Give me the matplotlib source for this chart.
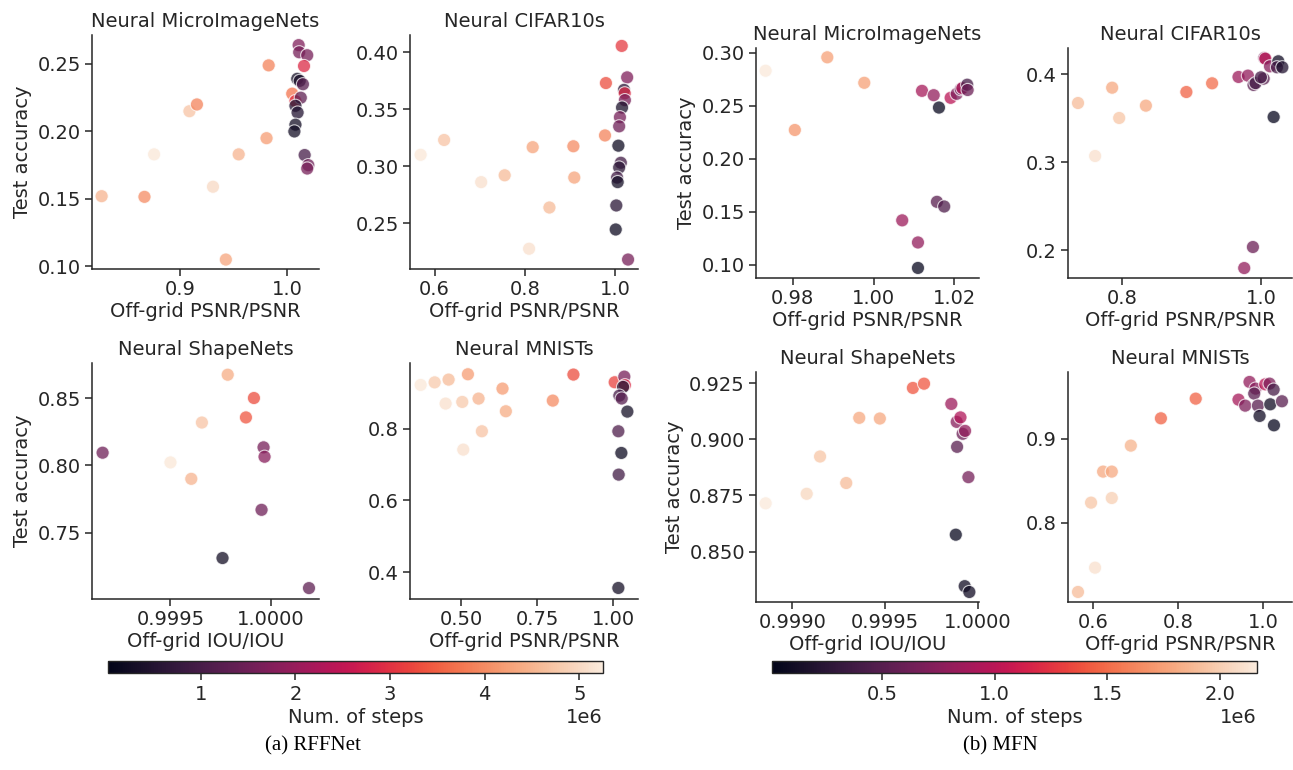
import matplotlib
matplotlib.use("Agg")
import matplotlib.pyplot as plt
import matplotlib.ticker as mticker
import seaborn as sns

sns.set_theme(style="ticks")
plt.rcParams["font.family"] = ["DejaVu Sans"]

# ---- RFFNet runs (num. of steps given in millions) ----
rff_img_x = [0.827, 0.867, 0.876, 0.909, 0.916, 0.931, 0.943, 0.955, 0.981, 0.983, 1.005, 1.008, 1.011, 1.0115,
             1.019, 1.016, 1.0097, 1.012, 1.015, 1.013, 1.008, 1.010, 1.008, 1.007, 1.0166, 1.020, 1.019]
rff_img_y = [0.152, 0.1515, 0.183, 0.215, 0.220, 0.159, 0.105, 0.183, 0.195, 0.249, 0.228, 0.2225, 0.264, 0.2587,
             0.2565, 0.2485, 0.239, 0.2375, 0.235, 0.225, 0.219, 0.214, 0.205, 0.200, 0.1825, 0.175, 0.1725]
rff_img_steps = [4.5, 4.0, 5.2, 4.7, 3.9, 5.0, 4.3, 4.5, 4.2, 3.9, 3.7, 3.0, 1.7, 1.6,
                 1.6, 2.9, 0.3, 0.4, 1.2, 1.3, 0.5, 0.5, 0.3, 0.3, 1.0, 1.5, 1.6]

rff_cifar_x = [0.569, 0.621, 0.703, 0.755, 0.809, 0.817, 0.854, 0.907, 0.909, 0.977, 0.979, 1.014, 1.026, 1.019,
               1.0206, 1.021, 1.0147, 1.010, 1.0083, 1.0066, 1.012, 1.0083, 1.0037, 1.005, 1.002, 1.0007, 1.028]
rff_cifar_y = [0.310, 0.323, 0.286, 0.292, 0.2275, 0.3167, 0.2637, 0.3175, 0.290, 0.327, 0.373, 0.4056, 0.378, 0.367,
               0.364, 0.358, 0.3515, 0.343, 0.335, 0.318, 0.303, 0.2988, 0.290, 0.286, 0.2655, 0.2444, 0.218]
rff_cifar_steps = [5.2, 4.7, 5.1, 4.6, 5.1, 4.3, 4.6, 4.0, 4.3, 3.9, 3.3, 3.1, 1.7, 0.6,
                   2.9, 1.6, 0.4, 1.6, 1.5, 0.2, 0.9, 0.6, 0.9, 0.3, 0.6, 0.2, 1.6]

rff_shape_x = [0.999161, 0.99950, 0.999604, 0.999657, 0.999786, 0.999760, 0.999877, 0.999917, 0.999965,
               0.999970, 0.999955, 1.000192]
rff_shape_y = [0.8094, 0.8022, 0.790, 0.8318, 0.8673, 0.7312, 0.8356, 0.850, 0.8134, 0.8064, 0.767, 0.7089]
rff_shape_steps = [1.5, 5.2, 4.5, 4.7, 4.4, 0.3, 3.4, 3.3, 1.6, 1.8, 1.5, 1.3]

rff_mnist_x = [0.3665, 0.4125, 0.4584, 0.4486, 0.5033, 0.5219, 0.5066, 0.5569, 0.5678, 0.6356, 0.6466, 0.8009,
               0.8687, 1.0044, 1.036, 1.038, 1.032, 1.0197, 1.0274, 1.046, 1.0164, 1.0263, 1.0175, 1.0164]
rff_mnist_y = [0.9218, 0.929, 0.9367, 0.8698, 0.8744, 0.9516, 0.7414, 0.8837, 0.7926, 0.9116, 0.8484, 0.8781,
               0.9507, 0.9293, 0.945, 0.921, 0.9163, 0.892, 0.884, 0.8474, 0.7926, 0.7321, 0.6716, 0.3555]
rff_mnist_steps = [5.2, 4.8, 4.6, 5.1, 4.8, 4.2, 5.1, 4.5, 4.7, 4.2, 4.4, 4.0,
                   3.3, 3.2, 1.6, 2.9, 0.5, 1.0, 1.2, 0.3, 1.1, 0.2, 0.9, 0.3]

# ---- MFN runs ----
mfn_img_x = [0.97326, 0.9805, 0.98854, 0.9977, 1.0120, 1.0149, 1.0162, 1.0191, 1.0206, 1.0216, 1.022, 1.0232,
             1.0233, 1.0157, 1.0175, 1.0071, 1.011, 1.011]
mfn_img_y = [0.2832, 0.2272, 0.2959, 0.2718, 0.2642, 0.2601, 0.2484, 0.2576, 0.2614, 0.2658, 0.2668, 0.270,
             0.265, 0.1593, 0.1549, 0.1418, 0.1209, 0.0968]
mfn_img_steps = [2.15, 1.7, 1.75, 1.75, 0.9, 0.8, 0.05, 1.0, 0.7, 0.6, 0.95, 0.4,
                 0.6, 0.5, 0.45, 0.85, 0.8, 0.05]

mfn_cifar_x = [0.7365, 0.7611, 0.7856, 0.7957, 0.8341, 0.8923, 0.9293, 0.9673, 0.9808, 0.9889, 0.9918, 1.0034,
               1.0043, 1.0058, 1.0125, 1.0245, 1.0226, 1.0303, 1.0178, 0.9880, 0.9755, 0.9995]
mfn_cifar_y = [0.3674, 0.3072, 0.3848, 0.3504, 0.3644, 0.3799, 0.3898, 0.397, 0.3985, 0.3879, 0.390, 0.3951,
               0.4186, 0.4178, 0.4091, 0.4148, 0.408, 0.408, 0.3515, 0.2038, 0.1799, 0.3966]
mfn_cifar_steps = [1.9, 2.1, 1.8, 1.95, 1.8, 1.45, 1.5, 0.85, 0.8, 0.5, 0.4, 0.5,
                   0.7, 1.0, 0.75, 0.1, 0.4, 0.2, 0.05, 0.6, 0.8, 0.4]

mfn_shape_x = [0.998856, 0.999077, 0.999149, 0.999290, 0.999360, 0.999471, 0.999649, 0.999709, 0.999856,
               0.999885, 0.999905, 0.999917, 0.99993, 0.999887, 0.999948, 0.99988, 0.999928, 0.999953]
mfn_shape_y = [0.87146, 0.8757, 0.8923, 0.8805, 0.9095, 0.9092, 0.9228, 0.9247, 0.9157,
               0.9077, 0.9097, 0.9024, 0.9037, 0.8966, 0.8831, 0.8575, 0.8346, 0.832]
mfn_shape_steps = [2.15, 2.05, 1.95, 1.9, 1.8, 1.8, 1.4, 1.4, 0.85,
                   0.75, 0.95, 0.6, 0.8, 0.5, 0.65, 0.05, 0.1, 0.1]

mfn_mnist_x = [0.5646, 0.6047, 0.5953, 0.644, 0.6236, 0.644, 0.6888, 0.7595, 0.8413, 0.9419, 0.9576, 0.9678,
               0.982, 0.9788, 0.9875, 0.9914, 1.0047, 1.0149, 1.0244, 1.0165, 1.044, 1.0252]
mfn_mnist_y = [0.7182, 0.747, 0.8241, 0.8296, 0.8609, 0.8609, 0.8917, 0.9241, 0.9474, 0.9462, 0.9391, 0.9672,
               0.9593, 0.9534, 0.9391, 0.9269, 0.9644, 0.9652, 0.9581, 0.9407, 0.9443, 0.9158]
mfn_mnist_steps = [1.9, 2.1, 1.95, 2.0, 1.8, 1.8, 1.85, 1.45, 1.45, 0.9, 0.7, 0.8,
                   0.75, 0.5, 0.5, 0.1, 1.0, 0.7, 0.4, 0.1, 0.5, 0.05]

titles = ["Neural MicroImageNets", "Neural CIFAR10s", "Neural ShapeNets", "Neural MNISTs"]
psnr_label = "Off-grid PSNR/PSNR"
iou_label = "Off-grid IOU/IOU"

cmap = sns.color_palette("rocket", as_cmap=True)
FS = 14

fig = plt.figure(figsize=(12.93, 7.70), dpi=100)


def draw_group(panels, rects, step_range, cbar_rect, caption, caption_x):
    norm = plt.Normalize(step_range[0] * 1e6, step_range[1] * 1e6)
    for i, (xs, ys, steps, xlabel, xlim, ylim, xstep, ystep, fmt) in enumerate(panels):
        ax = fig.add_axes(rects[i])
        ax.scatter(xs, ys, c=[s * 1e6 for s in steps], cmap=cmap, norm=norm,
                   s=90, alpha=0.75, edgecolors="white", linewidths=0.8, zorder=3)
        ax.set_xlim(*xlim)
        ax.set_ylim(*ylim)
        ax.xaxis.set_major_locator(mticker.MultipleLocator(xstep))
        ax.yaxis.set_major_locator(mticker.MultipleLocator(ystep))
        ax.xaxis.set_major_formatter(mticker.FormatStrFormatter(fmt[0]))
        ax.yaxis.set_major_formatter(mticker.FormatStrFormatter(fmt[1]))
        ax.set_title(titles[i], fontsize=FS)
        ax.set_xlabel(xlabel, fontsize=FS, labelpad=2)
        if i % 2 == 0:
            ax.set_ylabel("Test accuracy", fontsize=FS)
        ax.tick_params(labelsize=FS, length=5, width=1.1, pad=3)
        for sp in ["left", "bottom"]:
            ax.spines[sp].set_linewidth(1.1)
        sns.despine(ax=ax)

    cax = fig.add_axes(cbar_rect)
    sm = plt.cm.ScalarMappable(norm=norm, cmap=cmap)
    cb = fig.colorbar(sm, cax=cax, orientation="horizontal")
    cb.set_label("Num. of steps", fontsize=FS, labelpad=3)
    cb.ax.tick_params(labelsize=FS, length=5, width=1.1)
    cb.ax.xaxis.get_offset_text().set_fontsize(FS)
    cb.outline.set_linewidth(1.0)
    fig.text(caption_x, 0.032, caption, ha="center", va="center",
             fontsize=15, family="Liberation Serif", color="black")


W, H = 1293, 770


def rect(left, top, right, bottom):
    return [left / W, 1 - bottom / H, (right - left) / W, (bottom - top) / H]


rff_panels = [
    (rff_img_x, rff_img_y, rff_img_steps, psnr_label, (0.818, 1.030), (0.098, 0.2715), 0.1, 0.05, ("%.1f", "%.2f")),
    (rff_cifar_x, rff_cifar_y, rff_cifar_steps, psnr_label, (0.5455, 1.050), (0.2097, 0.4152), 0.2, 0.05, ("%.1f", "%.2f")),
    (rff_shape_x, rff_shape_y, rff_shape_steps, iou_label, (0.999108, 1.000242), (0.7008, 0.876), 0.0005, 0.05, ("%.4f", "%.2f")),
    (rff_mnist_x, rff_mnist_y, rff_mnist_steps, psnr_label, (0.3315, 1.081), (0.3247, 0.983), 0.25, 0.2, ("%.2f", "%.1f")),
]
rff_rects = [rect(92, 35, 319, 269), rect(410, 35, 638, 269),
             rect(92, 363, 319, 599), rect(410, 363, 638, 599)]
draw_group(rff_panels, rff_rects, (0.02, 5.25), rect(108, 661, 603, 673), "(a) RFFNet", 313 / W)

mfn_panels = [
    (mfn_img_x, mfn_img_y, mfn_img_steps, psnr_label, (0.97088, 1.02612), (0.0873, 0.3047), 0.02, 0.05, ("%.2f", "%.2f")),
    (mfn_cifar_x, mfn_cifar_y, mfn_cifar_steps, psnr_label, (0.7221, 1.0442), (0.1686, 0.4299), 0.2, 0.1, ("%.1f", "%.1f")),
    (mfn_shape_x, mfn_shape_y, mfn_shape_steps, iou_label, (0.998804, 1.000005), (0.82755, 0.9299), 0.0005, 0.025, ("%.4f", "%.3f")),
    (mfn_mnist_x, mfn_mnist_y, mfn_mnist_steps, psnr_label, (0.5411, 1.0676), (0.7063, 0.979), 0.2, 0.1, ("%.1f", "%.1f")),
]
mfn_rects = [rect(756, 48, 979, 278), rect(1068, 48, 1292, 278),
             rect(756, 372, 979, 602), rect(1068, 372, 1292, 602)]
draw_group(mfn_panels, mfn_rects, (0.01, 2.165), rect(772, 661, 1257, 673), "(b) MFN", 1000 / W)

fig.savefig("out.png", dpi=100)
